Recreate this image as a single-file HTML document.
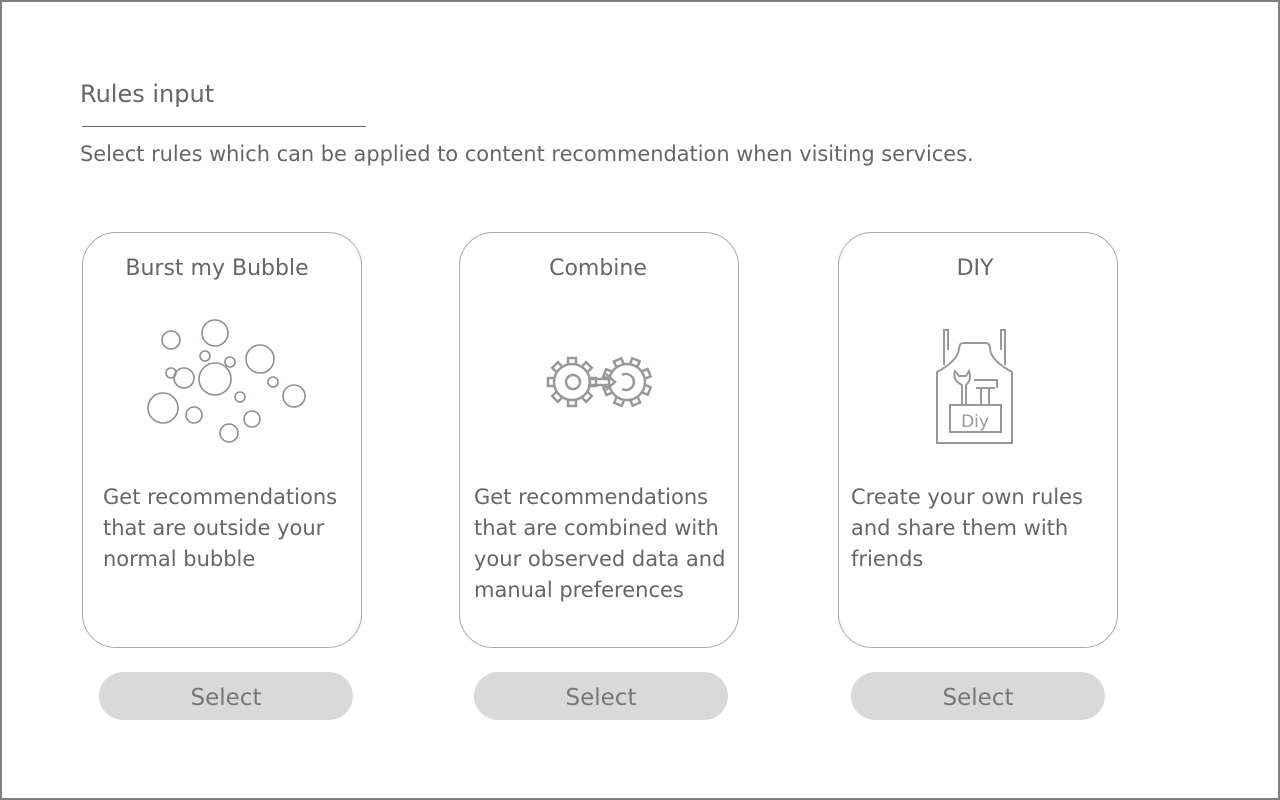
<!DOCTYPE html>
<html><head><style>
body{margin:0;width:1280px;height:800px;background:#fff;font-family:"DejaVu Sans","Liberation Sans",sans-serif;overflow:hidden;}
.frame{position:absolute;left:0;top:0;width:1276px;height:796px;border:2px solid #808080;}
.t{position:absolute;color:#666;}
.card{position:absolute;top:232px;width:278px;height:414px;border:1px solid #aaa;border-radius:34px;}
.btn{position:absolute;top:672px;width:254px;height:48px;border-radius:24px;background:#d9d9d9;color:#777;font-size:23px;text-align:center;line-height:52px;}
.title{position:absolute;top:256px;width:278px;text-align:center;font-size:22px;color:#666;}
.desc{position:absolute;top:482px;font-size:21px;line-height:31px;color:#666;}
</style></head><body>
<div class="frame"></div>
<div class="t" style="left:80px;top:80px;font-size:24px;">Rules input</div>
<div style="position:absolute;left:82px;top:126px;width:284px;height:1px;background:#666;"></div>
<div class="t" style="left:80px;top:142px;font-size:20.9px;">Select rules which can be applied to content recommendation when visiting services.</div>

<div class="card" style="left:82px"></div>
<div class="card" style="left:459px"></div>
<div class="card" style="left:838px"></div>
<div class="title" style="left:78px">Burst my Bubble</div>
<div class="title" style="left:459px">Combine</div>
<div class="title" style="left:836px">DIY</div>
<div class="desc" style="left:103px">Get recommendations<br>that are outside your<br>normal bubble</div>
<div class="desc" style="left:474px">Get recommendations<br>that are combined with<br>your observed data and<br>manual preferences</div>
<div class="desc" style="left:851px">Create your own rules<br>and share them with<br>friends</div>
<div class="btn" style="left:99px">Select</div>
<div class="btn" style="left:474px">Select</div>
<div class="btn" style="left:851px">Select</div>

<svg width="1280" height="800" style="position:absolute;left:0;top:0">
<defs>
<g id="teeth" fill="#fff" stroke="#999" stroke-width="2.5">
<rect x="-4" y="-24" width="8" height="7"/>
<rect x="-4" y="-24" width="8" height="7" transform="rotate(45)"/>
<rect x="-4" y="-24" width="8" height="7" transform="rotate(90)"/>
<rect x="-4" y="-24" width="8" height="7" transform="rotate(135)"/>
<rect x="-4" y="-24" width="8" height="7" transform="rotate(180)"/>
<rect x="-4" y="-24" width="8" height="7" transform="rotate(225)"/>
<rect x="-4" y="-24" width="8" height="7" transform="rotate(270)"/>
<rect x="-4" y="-24" width="8" height="7" transform="rotate(315)"/>
</g>
</defs>
<g fill="none" stroke="#8a8f9c" stroke-width="1.6">
<circle cx="171" cy="340" r="9"/><circle cx="215" cy="333" r="13"/><circle cx="260" cy="359" r="14"/>
<circle cx="205" cy="356" r="5"/><circle cx="230" cy="362" r="5"/><circle cx="171" cy="373" r="5"/>
<circle cx="184" cy="378" r="10"/><circle cx="215" cy="379" r="16"/><circle cx="273" cy="382" r="5"/>
<circle cx="294" cy="396" r="11"/><circle cx="163" cy="408" r="15"/><circle cx="240" cy="397" r="5"/>
<circle cx="194" cy="415" r="8"/><circle cx="252" cy="419" r="8"/><circle cx="229" cy="433" r="9"/>
</g>
<use href="#teeth" transform="translate(572,382)"/>
<use href="#teeth" transform="translate(627,382) rotate(22)"/>
<g stroke="#999" stroke-width="2.5">
<circle cx="572" cy="382" r="18" fill="#fff"/>
<circle cx="627" cy="382" r="18" fill="#fff"/>
</g>
<g fill="none" stroke="#999" stroke-width="2.5">
<circle cx="573" cy="382" r="7"/>
<path d="M622 375 A8 8 0 1 1 622 389"/>
<path d="M588 379 H610 M588 385 H610 M606 374 L615 382 L606 390"/>
</g>
<g fill="none" stroke="#999" stroke-width="2">
<path d="M944 365 V330 H948 V350 M1005 365 V330 H1001 V350"/>
<path d="M960 345 Q960 343 965 343 H985 Q990 343 990 348 Q990 360 1012 372 V443 H937 V372 Q959 360 959 348 Z"/>
<rect x="950" y="405" width="51" height="27"/>
<path d="M962 405 V385 Q952 380 955 371 L959 376 H966 L969 371 Q972 380 966 385 V405"/>
<path d="M981 405 V388 H989 V405 M976 388 H995 M974 380 H997 V388"/>
</g>
<text x="975" y="427" text-anchor="middle" font-family="DejaVu Sans,sans-serif" font-size="17" fill="#999">Diy</text>
</svg>
</body></html>
